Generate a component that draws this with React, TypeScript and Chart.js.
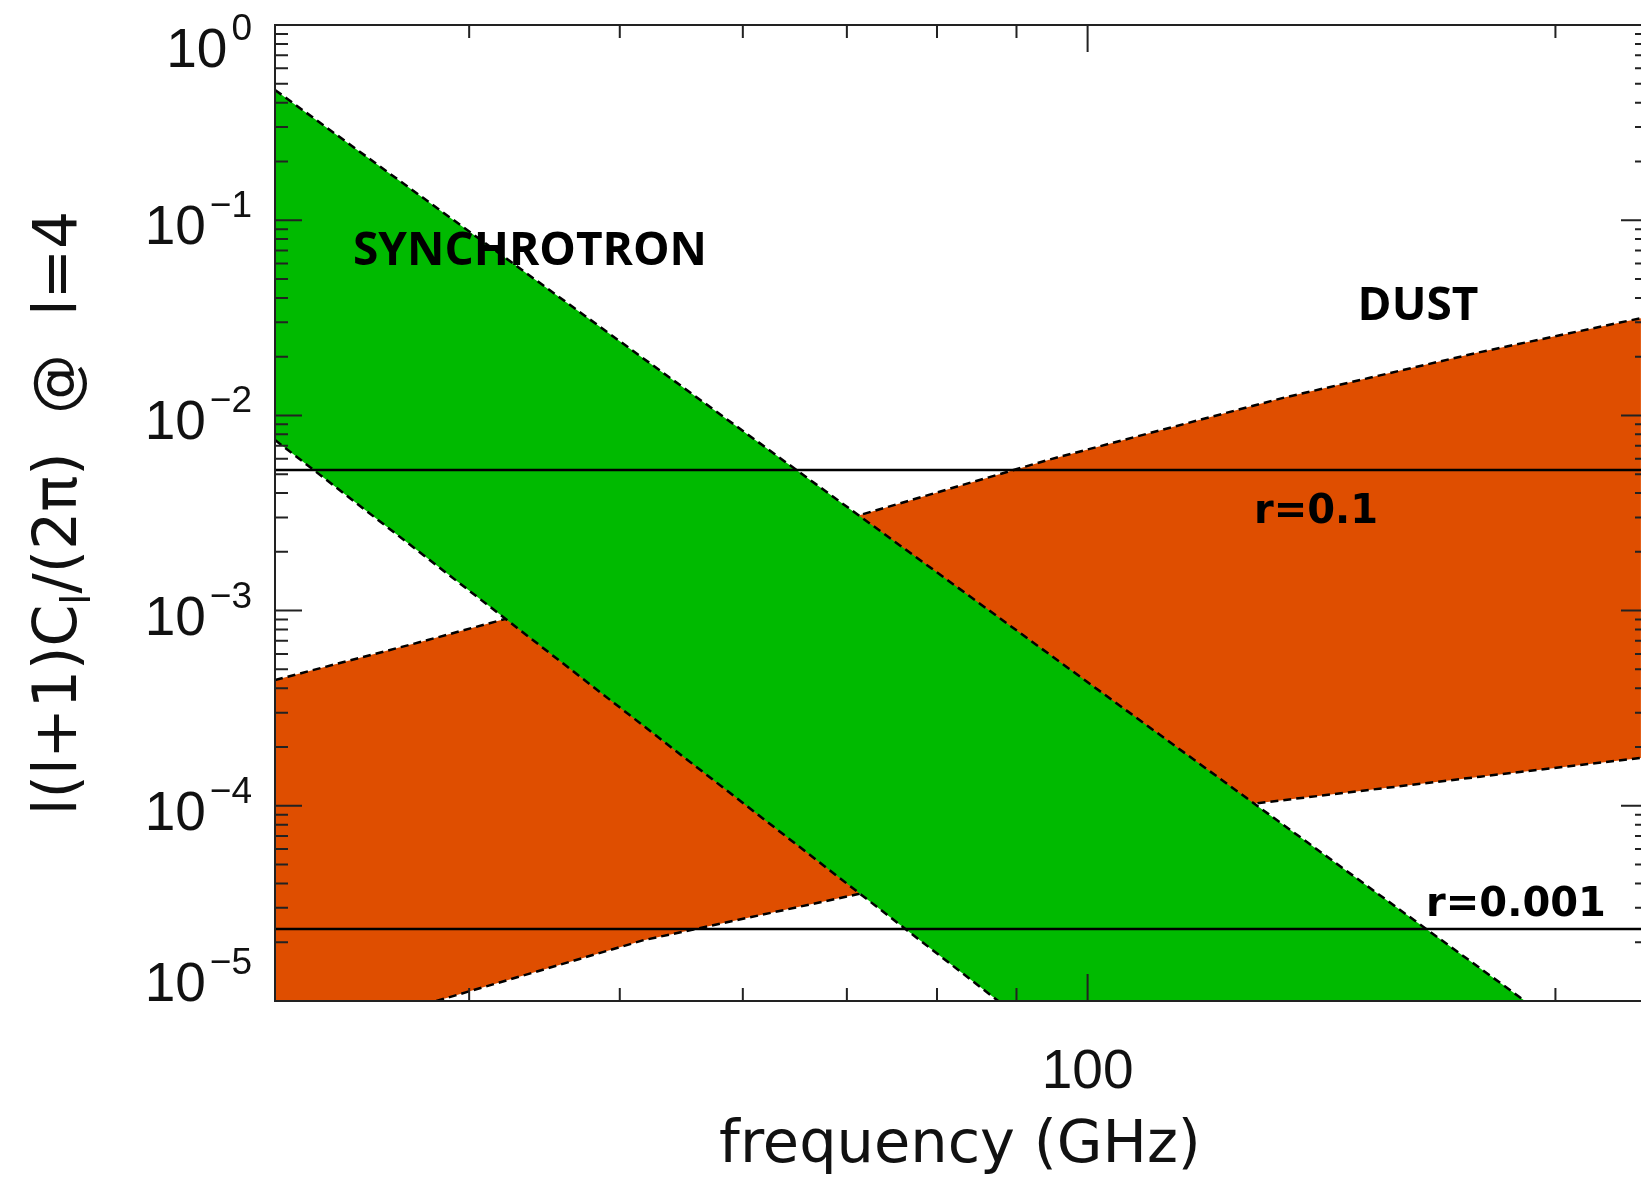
import { useEffect, useRef } from 'react';
import { Chart, registerables } from 'chart.js';

Chart.register(...registerables);

// ---- axis ranges ----
const X_MIN = 30;
const X_MAX = 229.4;
const Y_MIN = 1e-5;
const Y_MAX = 1;

// ---- synchrotron band (GHz, l(l+1)Cl/2pi) ----
const syncUpperFreq = [30, 191.2];
const syncUpperVal = [0.465, 1e-5];
const syncLowerFreq = [30, 87.6];
const syncLowerVal = [7.48e-3, 1e-5];

// ---- dust band ----
const dustUpperFreq = [30, 37.2, 42.7, 94.2, 133.6, 178.9, 227];
const dustUpperVal = [4.41e-4, 6.9e-4, 9.3e-4, 5.9e-3, 1.23e-2, 2.11e-2, 3.15e-2];
const dustLowerFreq = [38.1, 51.8, 71.2, 128.5, 178.9, 227];
const dustLowerVal = [1e-5, 2.05e-5, 3.53e-5, 1.03e-4, 1.41e-4, 1.76e-4];

// ---- tensor-to-scalar reference levels ----
const rLevels = [5.25e-3, 2.34e-5];
const rLabels = ['r=0.1', 'r=0.001'];

// ---- ticks ----
const xMajorTicks = [100];
const xMinorTicks = [40, 50, 60, 70, 80, 90, 200];
const xTickLabels = ['100'];
const yExponents = [0, -1, -2, -3, -4, -5];

const GREEN = '#00BA00';
const ORANGE = '#DF4E00';

const pts = (fx: number[], fy: number[]) => fx.map((x, i) => ({ x, y: fy[i] }));

const decorPlugin = {
  id: 'decor',
  afterDatasetsDraw(chart: any) {
    const { ctx, chartArea: a, scales } = chart;
    const xs = scales.x;
    const ys = scales.y;
    ctx.save();

    // frame
    ctx.strokeStyle = '#222';
    ctx.lineWidth = 2;
    ctx.beginPath();
    ctx.rect(a.left, a.top, a.right - a.left, a.bottom - a.top);
    ctx.stroke();

    // ticks
    const MAJ = 27;
    const MIN = 13;
    ctx.beginPath();
    const xt = (v: number, len: number) => {
      const p = xs.getPixelForValue(v);
      ctx.moveTo(p, a.bottom);
      ctx.lineTo(p, a.bottom - len);
      ctx.moveTo(p, a.top);
      ctx.lineTo(p, a.top + len);
    };
    xMajorTicks.forEach((v) => xt(v, MAJ));
    xMinorTicks.forEach((v) => xt(v, MIN));
    const yt = (v: number, len: number) => {
      const p = ys.getPixelForValue(v);
      ctx.moveTo(a.left, p);
      ctx.lineTo(a.left + len, p);
      ctx.moveTo(a.right, p);
      ctx.lineTo(a.right - len, p);
    };
    yExponents.forEach((e) => {
      yt(Math.pow(10, e), MAJ);
      for (let k = 2; k <= 9; k++) {
        const v = k * Math.pow(10, e);
        if (v < Y_MAX) yt(v, MIN);
      }
    });
    ctx.stroke();

    ctx.fillStyle = '#111';
    ctx.textBaseline = 'alphabetic';

    // y tick labels 10^n
    yExponents.forEach((e) => {
      const p = ys.getPixelForValue(Math.pow(10, e));
      const cy = Math.min(Math.max(p + 4, a.top + 22), a.bottom - 20);
      const sup = e === 0 ? '0' : '\u2212' + Math.abs(e);
      const right = 252;
      ctx.textAlign = 'right';
      ctx.font = '37px "Liberation Sans"';
      const sw = ctx.measureText(sup).width;
      ctx.fillText(sup, right, cy - 7);
      ctx.font = '55px "Liberation Sans"';
      ctx.fillText('10', right - sw - 4, cy + 20);
    });

    // x tick labels
    ctx.textAlign = 'center';
    ctx.font = '55px "Liberation Sans"';
    xMajorTicks.forEach((v, i) => {
      ctx.fillText(xTickLabels[i], xs.getPixelForValue(v), 1088);
    });

    // x title
    ctx.font = '59px "DejaVu Sans"';
    ctx.fillText('frequency (GHz)', 960, 1162);

    // y title (rotated, with subscript)
    ctx.save();
    ctx.translate(54, 513);
    ctx.rotate(-Math.PI / 2);
    ctx.textAlign = 'left';
    const parts = [
      { t: 'l(l+1)C', f: '60px "DejaVu Sans"', dy: 22 },
      { t: 'l', f: '40px "DejaVu Sans"', dy: 36 },
      { t: '/(2\u03C0)  @  l=4', f: '60px "DejaVu Sans"', dy: 22 },
    ];
    let total = 0;
    parts.forEach((p) => {
      ctx.font = p.f;
      total += ctx.measureText(p.t).width;
    });
    let cx = -total / 2;
    parts.forEach((p) => {
      ctx.font = p.f;
      ctx.fillText(p.t, cx, p.dy);
      cx += ctx.measureText(p.t).width;
    });
    ctx.restore();

    // annotations
    ctx.fillStyle = '#000';
    ctx.textAlign = 'center';
    ctx.font = 'bold 46px "Open Sans"';
    ctx.fillText('SYNCHROTRON', 530, 249 + 16);
    ctx.fillText('DUST', 1418, 304 + 16);
    ctx.font = 'bold 40px "DejaVu Sans"';
    ctx.fillText(rLabels[0], 1316, 508 + 15);
    ctx.fillText(rLabels[1], 1516, 901 + 15);

    ctx.restore();
  },
};

export default function App() {
  const ref = useRef<HTMLCanvasElement>(null);

  useEffect(() => {
    const syncPoly = [...pts(syncUpperFreq, syncUpperVal), ...pts(syncLowerFreq, syncLowerVal).reverse()];
    const dustPoly = [
      ...pts(dustUpperFreq, dustUpperVal),
      ...pts(dustLowerFreq, dustLowerVal).reverse(),
      { x: X_MIN, y: Y_MIN },
    ];
    const dashed = { borderColor: '#000', borderWidth: 2.5, borderDash: [8, 5], fill: false, pointRadius: 0 };
    const chart = new Chart(ref.current as HTMLCanvasElement, {
      type: 'line',
      data: {
        datasets: [
          { label: rLabels[0], data: [{ x: X_MIN, y: rLevels[0] }, { x: X_MAX, y: rLevels[0] }], borderColor: '#000', borderWidth: 2.5, fill: false, pointRadius: 0 },
          { label: rLabels[1], data: [{ x: X_MIN, y: rLevels[1] }, { x: X_MAX, y: rLevels[1] }], borderColor: '#000', borderWidth: 2.5, fill: false, pointRadius: 0 },
          { label: 'sync upper', data: pts(syncUpperFreq, syncUpperVal), ...dashed },
          { label: 'sync lower', data: pts(syncLowerFreq, syncLowerVal), ...dashed },
          { label: 'SYNCHROTRON', data: syncPoly, fill: 'shape', backgroundColor: GREEN, borderColor: 'rgba(0,0,0,0)', borderWidth: 0, pointRadius: 0 },
          { label: 'dust upper', data: pts(dustUpperFreq, dustUpperVal), ...dashed },
          { label: 'dust lower', data: pts(dustLowerFreq, dustLowerVal), ...dashed },
          { label: 'DUST', data: dustPoly, fill: 'shape', backgroundColor: ORANGE, borderColor: 'rgba(0,0,0,0)', borderWidth: 0, pointRadius: 0 },
        ] as any,
      },
      options: {
        responsive: false,
        animation: false,
        devicePixelRatio: 1,
        layout: { padding: { left: 275, top: 25, right: 12, bottom: 177 } },
        plugins: { legend: { display: false }, tooltip: { enabled: false } },
        elements: { line: { tension: 0 }, point: { radius: 0 } },
        scales: {
          x: { type: 'logarithmic', min: X_MIN, max: X_MAX, display: false, bounds: 'data' },
          y: { type: 'logarithmic', min: Y_MIN, max: Y_MAX, display: false, bounds: 'data' },
        },
      } as any,
      plugins: [decorPlugin],
    });
    return () => chart.destroy();
  }, []);

  return (
    <div style={{ position: 'fixed', left: 0, top: 0, width: 1641, height: 1178, overflow: 'hidden', background: '#fff' }}>
      <canvas ref={ref} width={1660} height={1178} style={{ display: 'block', width: 1660, height: 1178 }} />
    </div>
  );
}
